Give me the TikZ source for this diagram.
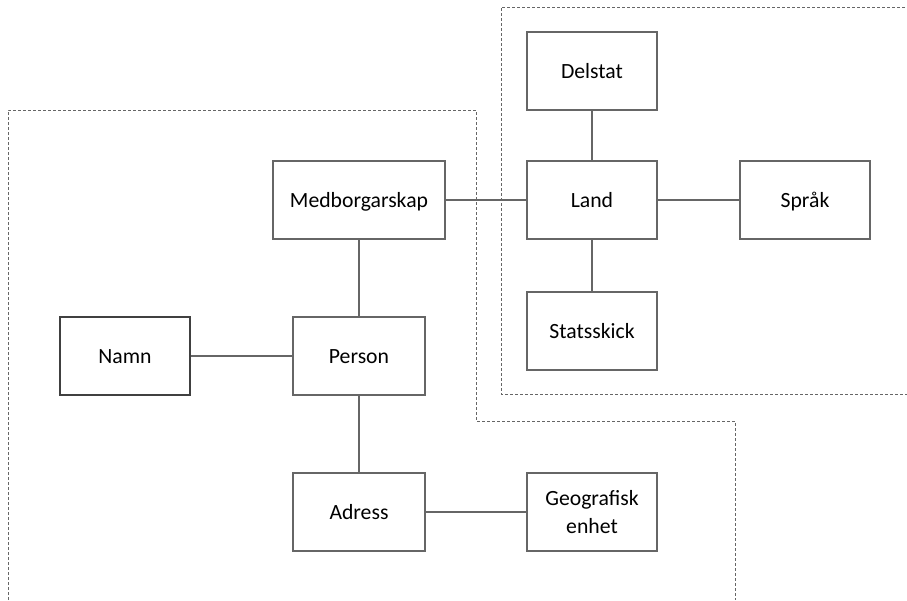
\documentclass[tikz,border=0pt]{standalone}
\usepackage{fontspec}
\setmainfont{Carlito}
\begin{document}
\begin{tikzpicture}[x=1pt,y=-1pt,
  entity/.style={draw=black!60,line width=1.1pt,fill=white,minimum width=130pt,minimum height=78pt,
    align=center,inner sep=0pt,text height=16pt,text depth=1.5pt,font=\fontsize{21.7}{28}\selectfont},
  link/.style={draw=black!60,line width=1.1pt},
  region/.style={draw=black!60,line width=0.9pt,dash pattern=on 3pt off 2pt}]
\useasboundingbox (0,0) rectangle (907,600);
% regions
\draw[region] (8,600) -- (8,110) -- (476,110) -- (476,421) -- (735,421) -- (735,600);
\draw[region] (915,7) -- (501,7) -- (501,394) -- (915,394);
% entities
\node[entity] (delstat) at (592,71) {Delstat};
\node[entity] (land) at (592,200) {Land};
\node[entity] (sprak) at (805,200) {Språk};
\node[entity] (stats) at (592,331) {Statsskick};
\node[entity,minimum width=172pt] (medb) at (359,200) {Medborgarskap};
\node[entity,minimum width=132pt] (person) at (359,356) {Person};
\node[entity,draw=black!75,line width=1.6pt] (namn) at (125,356) {Namn};
\node[entity,minimum width=132pt] (adress) at (359,512) {Adress};
\node[entity,text width=120pt,text height=,text depth=] (geo) at (592,512) {Geografisk\\enhet};
% links
\draw[link] (delstat) -- (land);
\draw[link] (land) -- (stats);
\draw[link] (land) -- (sprak);
\draw[link] (medb) -- (land);
\draw[link] (medb) -- (person);
\draw[link] (namn) -- (person);
\draw[link] (person) -- (adress);
\draw[link] (adress) -- (geo);
\end{tikzpicture}
\end{document}
